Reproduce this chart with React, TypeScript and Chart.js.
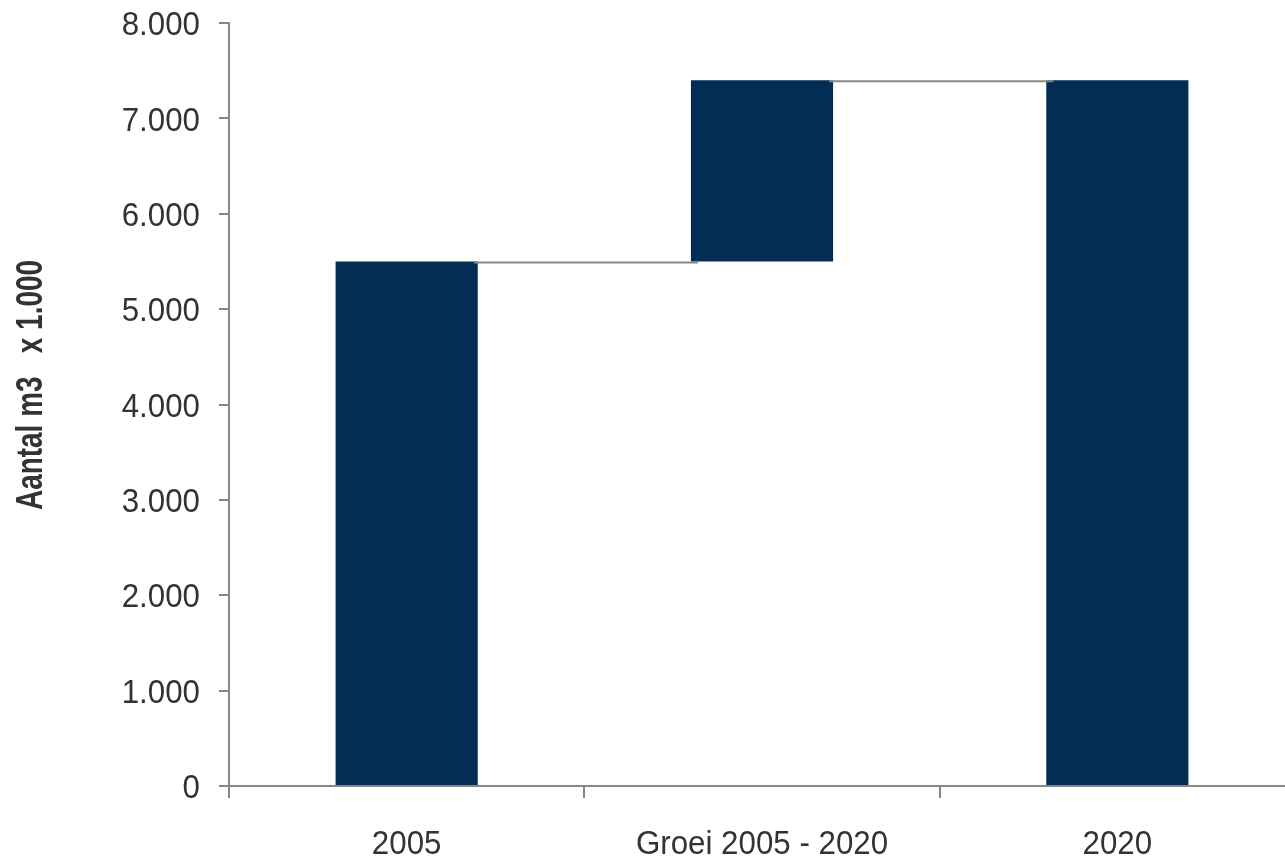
import React, { useEffect, useRef } from 'react';
import { Chart, registerables } from 'chart.js';

Chart.register(...registerables);

const categories = ['2005', 'Groei 2005 - 2020', '2020'];
const barStarts = [0, 5500, 0];
const barEnds = [5500, 7400, 7400];
const connectorLevels = [5500, 7400];
const yTitle = 'Aantal m3   x 1.000';
const yMin = 0;
const yMax = 8000;
const yStep = 1000;

const BAR = '#042d56';
const AXIS = '#878787';
const TEXT = '#333333';
const FONT = '"Liberation Sans", Arial, Helvetica, sans-serif';
const LABEL_SIZE = 34;
const LABEL_SQUEEZE = 0.92;

function fmt(v: number): string {
  const n = Math.round(v);
  if (n < 1000) return String(n);
  return `${Math.floor(n / 1000)}.${String(n % 1000).padStart(3, '0')}`;
}

export default function App() {
  const ref = useRef<HTMLCanvasElement>(null);

  useEffect(() => {
    if (!ref.current) return;

    const connectors = {
      id: 'connectors',
      afterDatasetsDraw(chart: any) {
        const meta = chart.getDatasetMeta(0);
        const ys = chart.scales.y;
        const ctx = chart.ctx;
        ctx.save();
        ctx.strokeStyle = AXIS;
        ctx.lineWidth = 2;
        connectorLevels.forEach((lvl, i) => {
          const a = meta.data[i];
          const b = meta.data[i + 1];
          const ax = a.x + a.width / 2 - 4;
          const bx = b.x - b.width / 2 + 7;
          const py = ys.getPixelForValue(lvl) + 1;
          ctx.beginPath();
          ctx.moveTo(ax, py);
          ctx.lineTo(bx, py);
          ctx.stroke();
        });
        ctx.restore();
      },
    };

    const tickLabels = {
      id: 'tickLabels',
      afterDraw(chart: any) {
        const ctx = chart.ctx;
        const ys = chart.scales.y;
        const xs = chart.scales.x;
        ctx.save();
        ctx.font = `${LABEL_SIZE}px ${FONT}`;
        ctx.fillStyle = TEXT;
        ctx.textBaseline = 'alphabetic';
        const capHalf = LABEL_SIZE * 0.358;
        // y tick labels
        ctx.textAlign = 'right';
        ys.ticks.forEach((t: any, i: number) => {
          const py = ys.getPixelForTick(i);
          ctx.save();
          ctx.translate(200, py + capHalf);
          ctx.scale(LABEL_SQUEEZE, 1);
          ctx.fillText(fmt(t.value), 0, 0);
          ctx.restore();
        });
        // x category labels
        ctx.textAlign = 'center';
        categories.forEach((c, i) => {
          const px = xs.getPixelForTick(i);
          ctx.save();
          ctx.translate(px, xs.top + 68);
          ctx.scale(LABEL_SQUEEZE, 1);
          ctx.fillText(c, 0, 0);
          ctx.restore();
        });
        // y axis title
        ctx.font = `bold 37px ${FONT}`;
        const w = ctx.measureText(yTitle).width;
        ctx.translate(42, 385);
        ctx.rotate(-Math.PI / 2);
        ctx.scale(250 / w, 1);
        ctx.textAlign = 'center';
        ctx.fillText(yTitle, 0, 0);
        ctx.restore();
      },
    };

    const chart = new Chart(ref.current, {
      type: 'bar',
      data: {
        labels: categories,
        datasets: [
          {
            data: categories.map((_, i) => [barStarts[i], barEnds[i]]) as any,
            backgroundColor: BAR,
            borderWidth: 0,
            barPercentage: 1,
            categoryPercentage: 0.4,
          },
        ],
      },
      options: {
        responsive: false,
        animation: false,
        devicePixelRatio: 1,
        layout: { padding: { top: 23, right: 5, left: 0, bottom: 0 } },
        plugins: {
          legend: { display: false },
          tooltip: { enabled: false },
          title: { display: false },
        },
        scales: {
          x: {
            grid: {
              display: true,
              drawOnChartArea: false,
              drawTicks: true,
              tickLength: 12,
              color: AXIS,
              lineWidth: 2,
              offset: true,
            },
            border: { display: true, color: AXIS, width: 2 },
            ticks: {
              display: false,
              autoSkip: false,
              maxRotation: 0,
            },
            afterFit: (scale: any) => {
              scale.height = 75;
              scale.paddingLeft = 0;
              scale.paddingRight = 0;
            },
          },
          y: {
            min: yMin,
            max: yMax,
            grid: {
              display: true,
              drawOnChartArea: false,
              drawTicks: true,
              tickLength: 10,
              color: AXIS,
              lineWidth: 2,
            },
            border: { display: true, color: AXIS, width: 2 },
            ticks: {
              display: false,
              stepSize: yStep,
            },
            afterFit: (scale: any) => {
              scale.width = 229;
              scale.paddingTop = 0;
              scale.paddingBottom = 0;
            },
          },
        },
      },
      plugins: [connectors, tickLabels],
    });

    return () => chart.destroy();
  }, []);

  return (
    <div
      style={{
        position: 'fixed',
        left: 0,
        top: 0,
        width: 1285,
        height: 861,
        overflow: 'hidden',
        background: '#ffffff',
      }}
    >
      <canvas ref={ref} width={1300} height={861} style={{ display: 'block' }} />
    </div>
  );
}
